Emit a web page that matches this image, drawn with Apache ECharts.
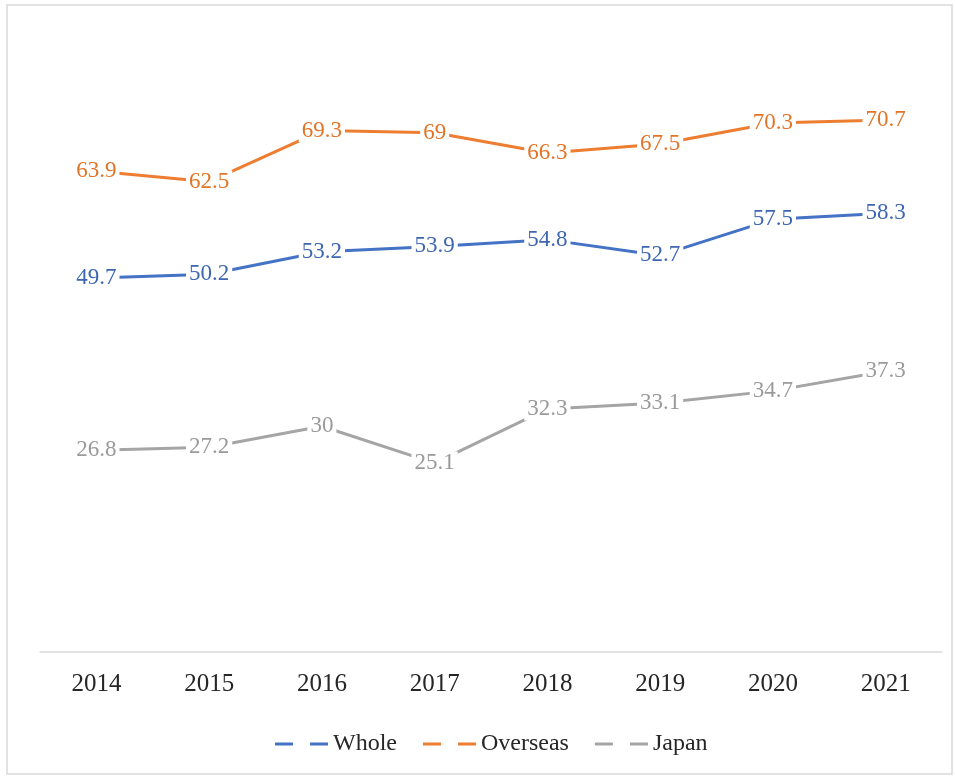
<!DOCTYPE html>
<html>
<head>
<meta charset="utf-8">
<style>
  html, body { margin: 0; padding: 0; background: #fff; }
  #chart { width: 955px; height: 776px; }
</style>
<script src="https://cdn.jsdelivr.net/npm/echarts@6/dist/echarts.min.js"></script>
</head>
<body>
<div id="chart"></div>
<script>
// Categories and series values
const years = ['2014', '2015', '2016', '2017', '2018', '2019', '2020', '2021'];
const whole = [49.7, 50.2, 53.2, 53.9, 54.8, 52.7, 57.5, 58.3];
const overseas = [63.9, 62.5, 69.3, 69, 66.3, 67.5, 70.3, 70.7];
const japan = [26.8, 27.2, 30, 25.1, 32.3, 33.1, 34.7, 37.3];

const seriesNames = ['Whole', 'Overseas', 'Japan'];
const lineColors = ['#4472C4', '#ED7D31', '#A5A5A5'];
const labelColors = ['#3E66B3', '#E27428', '#9A9A9A'];
const seriesData = [whole, overseas, japan];

const FONT = '"Liberation Serif", "Times New Roman", serif';
// legend key drawn as two short dashes
const dashIcon = 'path://M0,0 h18 v3 h-18 z M35,0 h18 v3 h-18 z';

const chart = echarts.init(document.getElementById('chart'));

chart.setOption({
  backgroundColor: '#ffffff',
  animation: false,
  graphic: [{
    type: 'rect',
    shape: { x: 7, y: 5, width: 945, height: 769 },
    style: { fill: 'none', stroke: '#d9d9d9', lineWidth: 1.5 },
    silent: true
  }],
  legend: {
    top: 727,
    left: 270,
    itemWidth: 53,
    itemHeight: 3,
    itemGap: 26,
    textStyle: { fontFamily: FONT, fontSize: 24, color: '#262626' },
    data: seriesNames.map((n) => ({ name: n, icon: dashIcon }))
  },
  grid: { left: 40, right: 13, top: 50, bottom: 124 },
  xAxis: {
    type: 'category',
    data: years,
    boundaryGap: true,
    axisLine: { lineStyle: { color: '#d9d9d9', width: 1.5 } },
    axisTick: { show: false },
    axisLabel: { margin: 20, fontFamily: FONT, fontSize: 25, color: '#262626' }
  },
  yAxis: {
    type: 'value',
    min: 0,
    max: 80,
    show: false,
    splitLine: { show: false }
  },
  series: seriesNames.map((name, i) => ({
    name: name,
    type: 'line',
    data: seriesData[i],
    symbol: 'circle',
    symbolSize: 1,
    showSymbol: true,
    color: lineColors[i],
    lineStyle: { width: 3, color: lineColors[i] },
    itemStyle: { color: lineColors[i] },
    label: {
      show: true,
      position: 'inside',
      align: 'center',
      verticalAlign: 'middle',
      fontFamily: FONT,
      fontSize: 23,
      color: labelColors[i],
      backgroundColor: '#ffffff',
      padding: [0, 3]
    }
  }))
});
</script>
</body>
</html>
